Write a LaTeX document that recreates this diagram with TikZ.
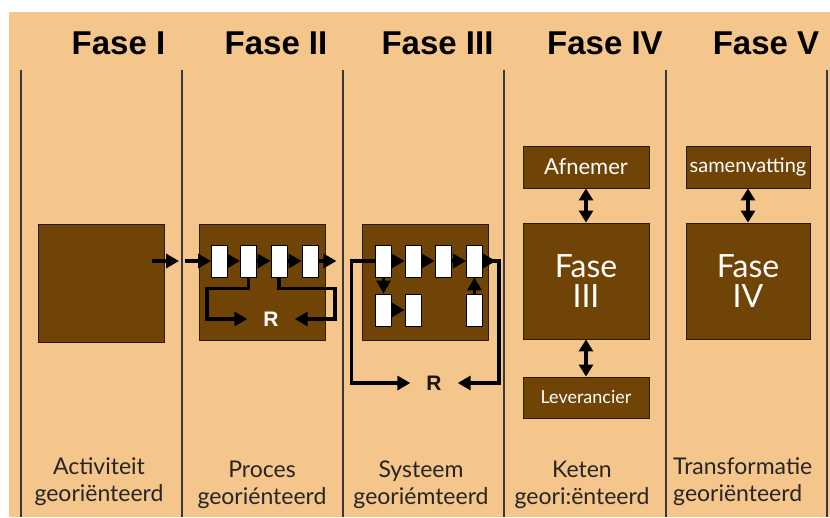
\documentclass[tikz,border=0pt]{standalone}
\usepackage{fontspec}
\setmainfont{Lato}
\newfontfamily\headfont{Liberation Sans}
\usetikzlibrary{arrows.meta}
\definecolor{fasetan}{RGB}{244,198,139}
\definecolor{fasebrown}{RGB}{112,68,6}
\definecolor{rimcolor}{RGB}{40,26,8}
\definecolor{labelgray}{RGB}{38,36,36}
\tikzset{
    phasebox/.style={draw=rimcolor, fill=fasebrown, line width=.9pt, inner sep=0pt,
        text=white, align=center},
    cell/.style={draw=black, fill=white, line width=.9pt, inner sep=0pt,
        minimum width=16pt, minimum height=32pt},
    flow/.style={line width=3.5pt, -{Triangle[length=13pt, width=14pt]}},
    twoway/.style={line width=3.5pt,
        {Triangle[length=12pt, width=14pt]}-{Triangle[length=12pt, width=14pt]}},
    heading/.style={anchor=base, inner sep=0pt,
        font=\headfont\bfseries\fontsize{33}{36}\selectfont},
    caption/.style={text=labelgray, inner sep=0pt,
        font=\fontsize{23}{27}\selectfont},
    rnode/.style={inner sep=0pt, minimum width=47pt,
        font=\headfont\bfseries\fontsize{21}{22}\selectfont},
}

\begin{document}
\begin{tikzpicture}[x=1pt, y=-1pt]
    \useasboundingbox (0,0) rectangle (830,517);
    \fill[fasetan] (9,12) rectangle (830,517);
    % column rules
    \foreach \x in {21, 182, 343, 504, 666, 827}
        \draw[line width=1.2pt, black!78] (\x,70) -- (\x,517);

    % headings
    \node[heading] (h1) at (118.5,54) {Fase I};
    \node[heading] (h2) at (276,54) {Fase II};
    \node[heading] (h3) at (437.5,54) {Fase III};
    \node[heading] (h4) at (605,54) {Fase IV};
    \node[heading] (h5) at (766,54) {Fase V};

    % fase I
    \node[phasebox, minimum width=126pt, minimum height=118pt] (act) at (101,283) {};
    \coordinate (out1) at (152,261);
    \draw[flow] (out1) -- ++(27,0);

    % fase II
    \node[phasebox, minimum width=126pt, minimum height=116pt] (proc) at (262,282) {};
    \foreach \n/\x in {1/219.5, 2/248.5, 3/279, 4/310}
        \node[cell] (p\n) at (\x,261) {};
    \coordinate (in2) at (185,261);
    \draw[flow] (in2) -- (p1.west);
    \foreach \a/\b in {1/2, 2/3, 3/4}
        \draw[flow] (p\a.east) -- (p\b.west);
    \draw[flow] (p4.east) -- ++(18,0);
    \node[rnode, text=white] (r2) at (271,319) {R};
    \draw[flow] (p2.south) |- ++(-41.5,11) |- (r2.west);
    \draw[flow] (p3.south) |- ++(56,11) |- (r2.east);

    % fase III
    \node[phasebox, minimum width=126pt, minimum height=116pt] (sys) at (425,282) {};
    \foreach \n/\x in {1/383.5, 2/413, 3/443, 4/474.5}
        \node[cell] (s\n) at (\x,261) {};
    \foreach \n/\x in {1/383.5, 2/413, 3/474.5}
        \node[cell] (t\n) at (\x,310) {};
    \foreach \a/\b in {1/2, 2/3, 3/4}
        \draw[flow] (s\a.east) -- (s\b.west);
    \draw[flow] (s1.south) -- (t1.north);
    \draw[flow] (t1.east) -- (t2.west);
    \draw[flow] (t3.north) -- (s4.south);
    \node[rnode, text=black!85!brown] (r3) at (434,383) {R};
    \draw[flow, {Triangle[length=13pt, width=14pt]}-] (r3.west) -| ++(-59,-122) -- (s1.west);
    \draw[flow] (s4.east) -- ++(13,0);
    \draw[flow] (s4.east) -- ++(16,0) |- (r3.east);

    % fase IV
    \node[phasebox, minimum width=126pt, minimum height=42pt,
        font=\fontsize{22}{24}\selectfont] (afn) at (586,167) {Afnemer};
    \node[phasebox, minimum width=126pt, minimum height=116pt,
        font=\fontsize{32}{30}\selectfont] (f3) at (586,281) {Fase\\III};
    \node[phasebox, minimum width=126pt, minimum height=41pt,
        font=\fontsize{18}{20}\selectfont] (lev) at (586,397.5) {Leverancier};
    \draw[twoway] (afn.south) -- (f3.north);
    \draw[twoway] (f3.south) -- (lev.north);

    % fase V
    \node[phasebox, minimum width=124pt, minimum height=42pt,
        font=\fontsize{20}{22}\selectfont] (sam) at (748,167) {samenvatting};
    \node[phasebox, minimum width=124pt, minimum height=116pt,
        font=\fontsize{32}{30}\selectfont] (f4) at (748,281) {Fase\\IV};
    \draw[twoway] (sam.south) -- (f4.north);

    % captions
    \node[caption, align=center] (c1) at (99,482) {Activiteit\\georiënteerd};
    \node[caption, align=center] (c2) at (262,485) {Proces\\georiénteerd};
    \node[caption, align=center] (c3) at (421,485) {Systeem\\georiémteerd};
    \node[caption, align=center] (c4) at (582,485) {Keten\\geori:ënteerd};
    \node[caption, align=left, anchor=west] (c5) at (673,482) {Transformatie\\georiënteerd};
\end{tikzpicture}
\end{document}
